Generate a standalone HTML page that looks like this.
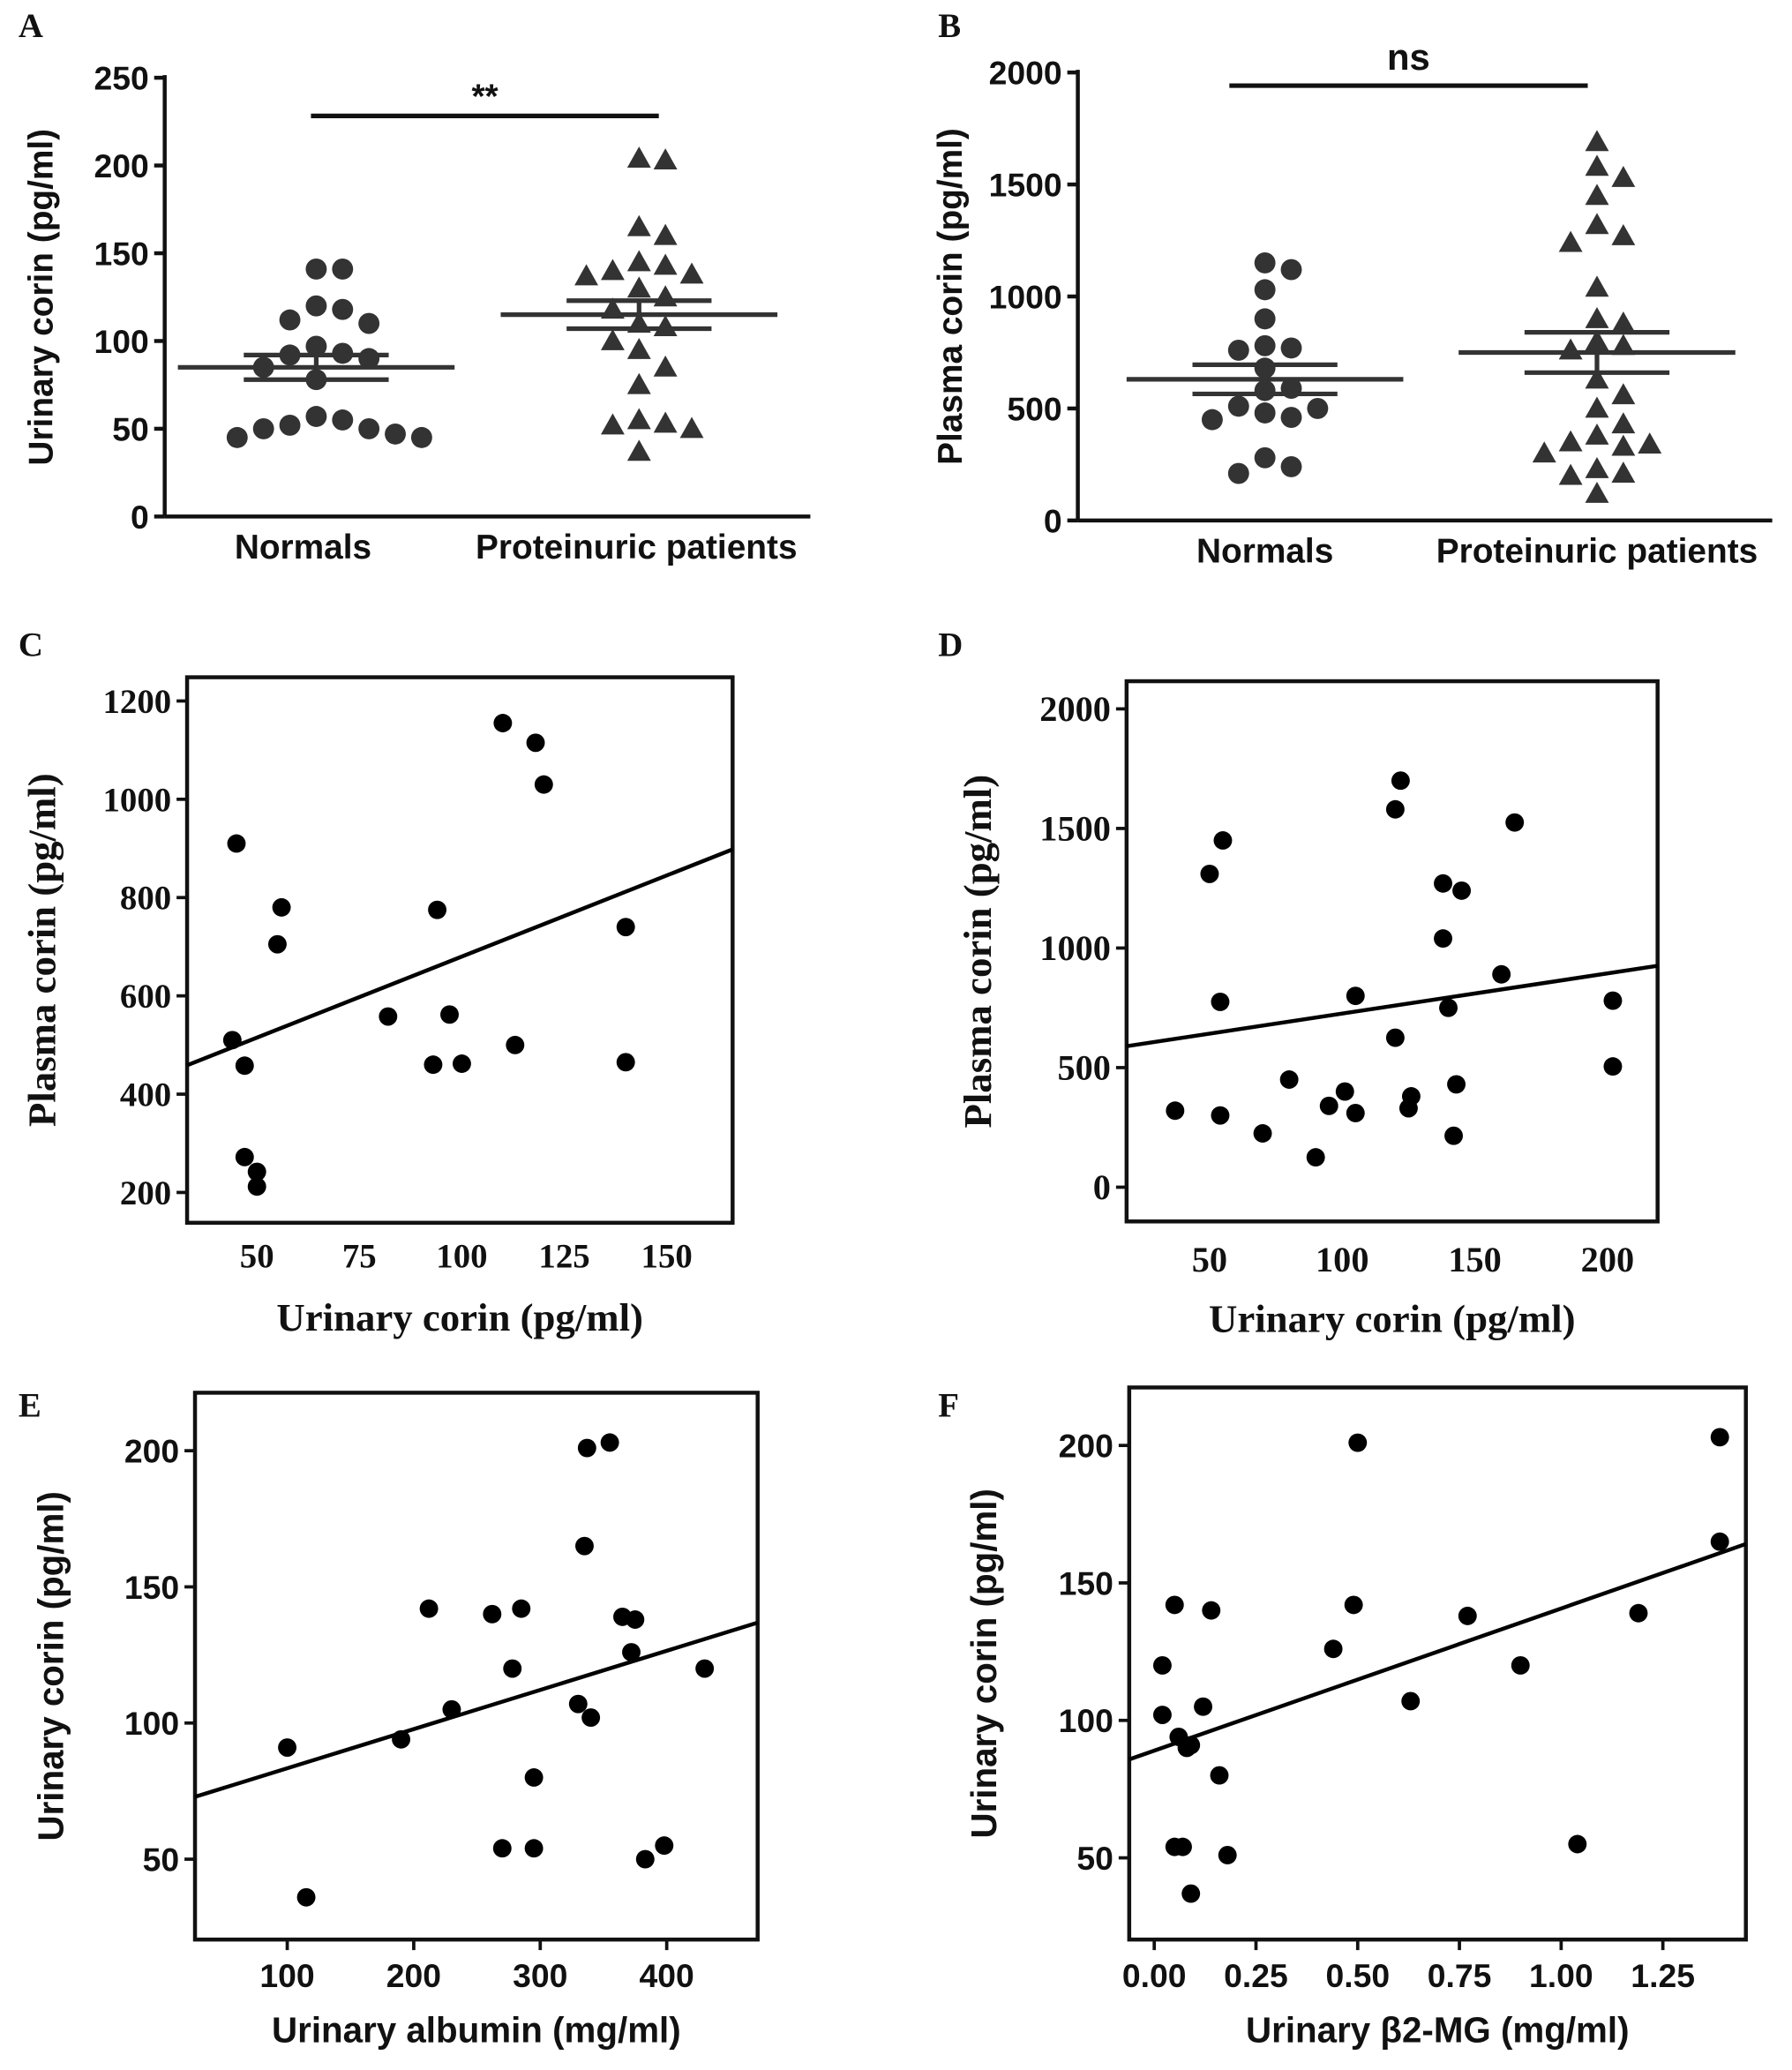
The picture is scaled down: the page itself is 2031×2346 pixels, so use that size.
<!DOCTYPE html>
<html><head><meta charset="utf-8"><style>
html,body{margin:0;padding:0;background:#fff}
svg{display:block}
.sans{font-family:"Liberation Sans",Arial,sans-serif;font-weight:bold}
.serif{font-family:"Liberation Serif","Times New Roman",serif;font-weight:bold}
</style></head><body>
<svg id="fig" width="2031" height="2346" viewBox="0 0 1360 1571" preserveAspectRatio="none" xmlns="http://www.w3.org/2000/svg"></svg>
<script>
// ---- Panel A data ----
const aNormals = [141,141,120,118,112,110,97,93,92,90,85,78,57,55,52,50,50,47,45,45];
const aProt = [204,203,165,160,145,143,140,138,137,130,125,118,110,108,100,95,85,75,55,53,52,50,37];
const aMeans = [85,115];
const aSem = [7,8];
const aTicks = [0,50,100,150,200,250];
// ---- Panel B data ----
const bNormals = [1150,1120,1030,900,780,770,760,680,590,580,510,500,480,460,450,280,240,210];
const bProt = [1690,1580,1530,1450,1320,1270,1240,1040,900,880,800,780,760,630,560,500,430,380,350,340,330,300,230,210,200,120];
const bMeans = [630,750];
const bSem = [65,90];
const bTicks = [0,500,1000,1500,2000];
const groupLabels = ["Normals","Proteinuric patients"];
// ---- Panel C ----
const cX = [110,118,120,45,56,94,55,140,82,97,44,93,100,113,140,47,47,50,50];
const cY = [1155,1115,1030,910,780,775,705,740,558,562,510,460,462,500,465,458,272,242,212];
const cXTicks = [50,75,100,125,150];
const cYTicks = [200,400,600,800,1000,1200];
const cFit = [350,3.3];
// ---- Panel D ----
const dX = [122,120,165,55,50,138,145,138,160,105,202,54,140,120,202,80,143,101,126,95,125,37,105,54,70,142,90];
const dY = [1700,1580,1525,1450,1310,1270,1240,1040,890,800,780,775,750,625,505,450,430,400,380,340,330,320,310,300,225,215,125];
const dXTicks = [50,100,150,200];
const dYTicks = [0,500,1000,1500,2000];
const dFit = [558,1.68];
// ---- Panel E ----
const eX = [355,337,335,212,285,262,365,375,372,430,278,330,230,340,100,190,295,270,295,398,383,115];
const eY = [203,201,165,142,142,140,139,138,126,120,120,107,105,102,91,94,80,54,54,55,50,36];
const eXTicks = [100,200,300,400];
const eYTicks = [50,100,150,200];
const eFit = [69,0.1438];
// ---- Panel F ----
const fX = [0.5,1.39,1.39,0.05,0.49,0.14,0.77,1.19,0.44,0.02,0.9,0.63,0.12,0.02,0.06,0.09,0.08,0.16,0.05,0.07,0.18,1.04,0.09];
const fY = [201,203,165,142,142,140,138,139,126,120,120,107,105,102,94,91,90,80,54,54,51,55,37];
const fXTicks = [0,0.25,0.5,0.75,1.0,1.25];
const fXTickLabels = ["0.00","0.25","0.50","0.75","1.00","1.25"];
const fYTicks = [50,100,150,200];
const fFit = [89,51.7];

const NS="http://www.w3.org/2000/svg";
const svg=document.getElementById('fig');
function mk(tag,attrs,parent){const e=document.createElementNS(NS,tag);for(const k in attrs)e.setAttribute(k,attrs[k]);(parent||svg).appendChild(e);return e;}
function txt(s,x,y,cls,size,anchor,parent,rot){const t=mk('text',{x:x,y:y,'class':cls,'font-size':size,'text-anchor':anchor||'middle',fill:'#111'},parent);if(rot)t.setAttribute('transform','rotate(-90 '+x+' '+y+')');t.textContent=s;return t;}
function lin(d0,d1,p0,p1){return v=>p0+(v-d0)*(p1-p0)/(d1-d0);}

function dotPlot(o){
  const g=mk('g',{});
  
  
  const y=lin(0,o.ymax,o.y0,o.y1);
  mk('line',{x1:o.ax,y1:o.y1-2,x2:o.ax,y2:o.y0,stroke:'#111','stroke-width':3},g);
  mk('line',{x1:o.ax,y1:o.y0,x2:o.axEnd,y2:o.y0,stroke:'#111','stroke-width':3},g);
  o.ticks.forEach(v=>{
    mk('line',{x1:o.ax-8,y1:y(v),x2:o.ax,y2:y(v),stroke:'#111','stroke-width':3},g);
    const t=txt(String(v),o.ax-12,y(v)+9,'sans',25,'end',g);
    
    
  });
  const yt=txt(o.ytitle,o.ytx,(o.y0+o.y1)/2,'sans',26,'middle',g,true);
  
  
  [o.n,o.p].forEach((vals,gi)=>{
    const cx=o.cx[gi];
    const lab=txt(groupLabels[gi],o.lcx[gi],o.y0+32,'sans',26,'middle',g);
    
    
    const placed=[];
    vals.forEach(v=>{
      const py=y(v);let px=cx;
      for(let k=0;k<40;k++){
        const off=(k%2?1:-1)*Math.ceil(k/2)*20;
        const tx=cx+off;
        if(!placed.some(p=>Math.hypot(p[0]-tx,p[1]-py)<16)){px=tx;break;}
      }
      placed.push([px,py]);
      let m;
      if(gi===0){m=mk('circle',{cx:px,cy:py,r:8,fill:'#333'},g);}
      else{m=mk('polygon',{points:`${px},${py-9} ${px-9},${py+7} ${px+9},${py+7}`,fill:'#333'},g);}
      
    });
    const mv=o.means[gi],se=o.sem[gi];
    const ml=mk('line',{x1:cx-105,y1:y(mv),x2:cx+105,y2:y(mv),stroke:'#333','stroke-width':3.5},g);
    
    mk('line',{x1:cx-55,y1:y(mv+se),x2:cx+55,y2:y(mv+se),stroke:'#333','stroke-width':3.5},g);
    mk('line',{x1:cx-55,y1:y(mv-se),x2:cx+55,y2:y(mv-se),stroke:'#333','stroke-width':3.5},g);
    mk('line',{x1:cx,y1:y(mv+se),x2:cx,y2:y(mv-se),stroke:'#333','stroke-width':3.5},g);
  });
  const sb=mk('line',{x1:o.sig[0],y1:o.sig[2],x2:o.sig[1],y2:o.sig[2],stroke:'#111','stroke-width':3.5},g);
  
  const st=txt(o.sigText,(o.sig[0]+o.sig[1])/2,o.sig[2]-o.sigOff,'sans',o.sigSize,'middle',g);
  
  st.setAttribute('font-weight',o.sigWeight);
  const pl=txt(o.letter,o.lx,o.ly,'serif',26,'start',g);
  
}
dotPlot({name:'panel-a',ax:125,axEnd:615,y0:392,y1:59,ymax:250,ticks:aTicks,ytitle:'Urinary corin (pg/ml)',ytx:40,
  cx:[240,485],lcx:[230,483],n:aNormals,p:aProt,means:aMeans,sem:aSem,sig:[236,500,88],sigText:'**',sigOff:6,sigSize:26,sigWeight:'bold',letter:'A',lx:14,ly:28});
dotPlot({name:'panel-b',ax:818,axEnd:1345,y0:395,y1:55,ymax:2000,ticks:bTicks,ytitle:'Plasma corin (pg/ml)',ytx:730,
  cx:[960,1212],lcx:[960,1212],n:bNormals,p:bProt,means:bMeans,sem:bSem,sig:[933,1205,65],sigText:'ns',sigOff:12,sigSize:28,sigWeight:'normal',letter:'B',lx:712,ly:28});

function scatter(o){
  const g=mk('g',{});
  
  
  const x=lin(o.xd[0],o.xd[1],o.xp[0],o.xp[1]);
  const y=lin(o.yd[0],o.yd[1],o.yp[0],o.yp[1]);
  const b=o.box;
  const r=mk('rect',{x:b[0],y:b[1],width:b[2]-b[0],height:b[3]-b[1],fill:'none',stroke:'#111','stroke-width':3},g);
  
  o.xt.forEach((v,i)=>{
    if(o.outTicks)mk('line',{x1:x(v),y1:b[3],x2:x(v),y2:b[3]+8,stroke:'#111','stroke-width':2.5},g);
    const t=txt(o.xtl?o.xtl[i]:String(v),x(v),b[3]+o.xtOff,o.cls,o.tfs,'middle',g);
    
  });
  o.yt.forEach(v=>{
    mk('line',{x1:b[0]-8,y1:y(v),x2:b[0],y2:y(v),stroke:'#111','stroke-width':2.5},g);
    const t=txt(String(v),b[0]-12,y(v)+9,o.cls,o.tfs,'end',g);
    
  });
  const xt=txt(o.xtitle,(b[0]+b[2])/2,b[3]+o.xtitleOff,o.cls,o.titfs,'middle',g);
  
  const yt=txt(o.ytitle,o.ytx,(b[1]+b[3])/2,o.cls,o.titfs,'middle',g,true);
  
  o.px.forEach((v,i)=>{
    const c=mk('circle',{cx:x(v),cy:y(o.py[i]),r:7,fill:'#000'},g);
    
  });
  const xa=o.xd[0]+(b[0]-o.xp[0])*(o.xd[1]-o.xd[0])/(o.xp[1]-o.xp[0]);
  const xb=o.xd[0]+(b[2]-o.xp[0])*(o.xd[1]-o.xd[0])/(o.xp[1]-o.xp[0]);
  const fl=mk('line',{x1:x(xa),y1:y(o.fit[0]+o.fit[1]*xa),x2:x(xb),y2:y(o.fit[0]+o.fit[1]*xb),stroke:'#000','stroke-width':3},g);
  
  const pl=txt(o.letter,o.lx,o.ly,'serif',26,'start',g);
  
}
scatter({name:'panel-c',box:[142,514,556,928],xd:[50,150],xp:[195,506],yd:[200,1200],yp:[905,532],xt:cXTicks,yt:cYTicks,
  px:cX,py:cY,fit:cFit,cls:'serif',tfs:26,titfs:30,xtOff:34,xtitleOff:82,ytx:42,xtitle:'Urinary corin (pg/ml)',ytitle:'Plasma corin (pg/ml)',letter:'C',lx:14,ly:498});
scatter({name:'panel-d',box:[855,517,1258,927],xd:[50,200],xp:[918,1220],yd:[0,2000],yp:[901,538],xt:dXTicks,yt:dYTicks,
  px:dX,py:dY,fit:dFit,cls:'serif',tfs:27,titfs:30,xtOff:38,xtitleOff:84,ytx:752,xtitle:'Urinary corin (pg/ml)',ytitle:'Plasma corin (pg/ml)',letter:'D',lx:712,ly:498});
scatter({name:'panel-e',box:[148,1057,575,1472],xd:[100,400],xp:[218,506],yd:[50,200],yp:[1411,1101],xt:eXTicks,yt:eYTicks,outTicks:true,
  px:eX,py:eY,fit:eFit,cls:'sans',tfs:25,titfs:27,xtOff:36,xtitleOff:78,ytx:48,xtitle:'Urinary albumin (mg/ml)',ytitle:'Urinary corin (pg/ml)',letter:'E',lx:14,ly:1075});
scatter({name:'panel-f',box:[857,1053,1325,1472],xd:[0,1.25],xp:[876,1262],yd:[50,200],yp:[1410,1097],xt:fXTicks,xtl:fXTickLabels,yt:fYTicks,outTicks:true,
  px:fX,py:fY,fit:fFit,cls:'sans',tfs:25,titfs:27,xtOff:36,xtitleOff:78,ytx:756,xtitle:'Urinary \u03B22-MG (mg/ml)',ytitle:'Urinary corin (pg/ml)',letter:'F',lx:712,ly:1075});
</script>
</body></html>
